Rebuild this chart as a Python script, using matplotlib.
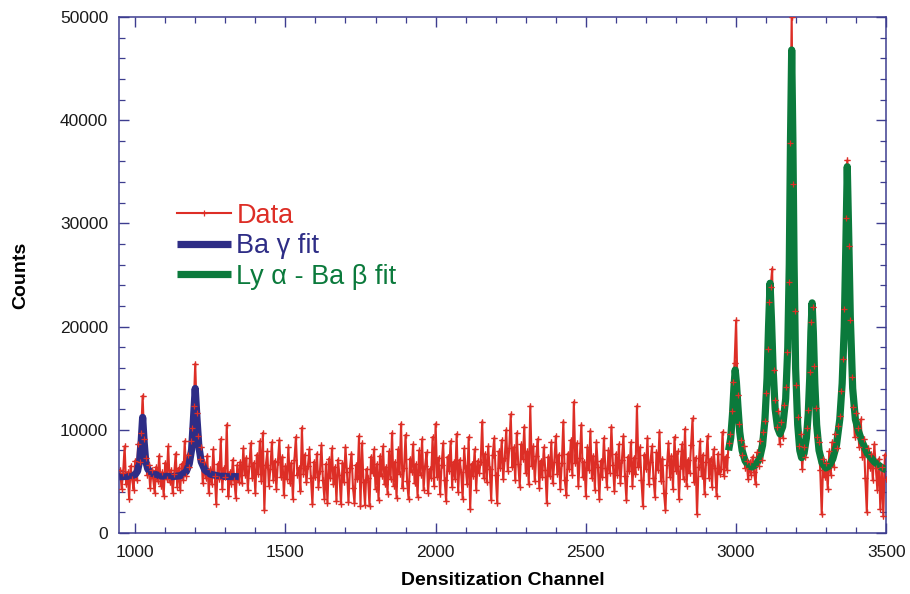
import numpy as np
import matplotlib
matplotlib.use("Agg")
import matplotlib.pyplot as plt
from matplotlib.ticker import MultipleLocator

plt.rcParams['font.family'] = ['Liberation Sans', 'DejaVu Sans']

# ---------------- data ----------------
channel_start = 950
channel_step = 5
counts = [
    6100, 4300, 5800, 8400, 4700, 5900, 3300, 6500, 5200, 4200, 7000, 5100, 8600, 6900, 9700, 13300, 9100, 7300, 5600, 6600,
    4400, 6100, 5300, 3900, 6400, 5000, 7500, 4600, 5900, 3600, 6800, 5200, 8400, 4900, 6100, 3900, 5700, 7700, 4500, 6300,
    4200, 6700, 5100, 8900, 5500, 7600, 6400, 8900, 10200, 12300, 16400, 11600, 9400, 7200, 8300, 4800, 6900, 5300, 7500, 3900,
    6200, 4700, 8100, 5500, 2800, 6700, 5200, 9100, 4300, 6300, 5400, 10500, 3600, 5900, 4700, 7100, 5100, 3400, 6600, 4900,
    6900, 4800, 8200, 5600, 7300, 4200, 6500, 8700, 5300, 6800, 3900, 7600, 5700, 8900, 5000, 9700, 2200, 6600, 7900, 4600,
    6200, 8800, 5100, 7000, 4300, 6900, 9000, 5400, 7400, 3700, 6500, 5200, 8300, 4800, 6800, 3300, 7100, 9300, 5600, 6300,
    4100, 10200, 5700, 7600, 4900, 6500, 8100, 5300, 2800, 6900, 5400, 7700, 4500, 6000, 8500, 5100, 3300, 6700, 2900, 7200,
    5300, 8200, 4700, 6400, 3100, 7100, 5600, 2800, 6800, 4900, 8300, 5900, 3000, 6300, 7700, 4400, 2900, 6600, 5200, 9400,
    2600, 8700, 4900, 2700, 6200, 5300, 2600, 7400, 5800, 8100, 4300, 6700, 3200, 7500, 5500, 8400, 4700, 6400, 3800, 7900,
    5200, 9700, 4600, 6900, 3400, 8100, 5700, 10600, 4400, 6300, 9500, 5000, 3300, 7200, 5900, 8600, 4800, 6700, 3500, 8000,
    5600, 9100, 4200, 6500, 7800, 3900, 6200, 5300, 9300, 4600, 10600, 5400, 7300, 3800, 6600, 8700, 5100, 3100, 7400, 6000,
    8900, 4500, 6900, 5200, 9600, 4000, 7100, 5900, 3300, 8200, 6300, 4700, 9300, 2300, 6700, 5500, 8100, 4200, 7000, 5800,
    6900, 10800, 5300, 7700, 4900, 8400, 6200, 3200, 7600, 9200, 5600, 2900, 7900, 6300, 9000, 5200, 7300, 10000, 6000, 8200,
    11500, 6400, 8300, 5100, 9700, 6700, 4500, 8600, 7200, 10300, 5800, 7900, 4700, 12300, 6500, 8400, 5000, 7500, 9100, 4400,
    7000, 5400, 8300, 6100, 2900, 7400, 5500, 8800, 4800, 6900, 9400, 5700, 7600, 4300, 6800, 10800, 5100, 3700, 7700, 6200,
    9000, 5600, 12700, 6800, 8700, 4600, 7300, 10500, 5400, 6900, 3600, 8300, 6100, 9900, 5300, 7500, 4200, 8800, 6400, 3300,
    7000, 5400, 9200, 6300, 4500, 8000, 5800, 10300, 6600, 4100, 7700, 5600, 8600, 4800, 7100, 9400, 5500, 3200, 7400, 6000,
    8800, 4600, 7300, 5700, 12300, 6400, 8300, 5100, 2600, 7600, 6200, 9200, 4700, 6900, 8400, 5300, 3500, 7800, 6100, 9800,
    5000, 7200, 3900, 2200, 6600, 8700, 5400, 7500, 4300, 9300, 6000, 7900, 3300, 6500, 8600, 5200, 10100, 4600, 7100, 5800,
    8500, 11100, 4900, 7300, 1800, 6400, 8900, 5500, 7600, 3800, 6900, 9400, 5300, 7200, 4500, 8100, 6300, 3600, 7700, 5700,
    6200, 9800, 5500, 7400, 6100, 8700, 9600, 11800, 14600, 16500, 20600, 13400, 10600, 9000, 7600, 8400, 6300, 7000, 5200, 6900,
    5600, 7400, 5900, 4700, 7800, 6500, 8900, 7100, 9800, 10900, 13600, 17800, 22400, 23800, 25600, 15800, 12900, 10300, 11800, 8600,
    10800, 9200, 12400, 14100, 17500, 24300, 37800, 50000, 33800, 21500, 14300, 11200, 8400, 9600, 6200, 8300, 7400, 10200, 11900, 15600,
    20400, 21900, 16200, 12100, 9300, 8800, 6100, 1800, 7200, 5400, 6800, 4300, 7900, 5600, 8800, 6400, 9600, 8200, 10400, 11300,
    13800, 16900, 21700, 30500, 36100, 27800, 20600, 15100, 12200, 9300, 11600, 10200, 8300, 11000, 7400, 9100, 5300, 2000, 8200, 6300,
    7700, 5100, 8600, 6300, 4200, 7200, 2300, 6400, 1600, 7600, 5200,
]
channels = channel_start + channel_step * np.arange(len(counts))

ba_gamma_x = [947, 980, 1000, 1008, 1015, 1020, 1025, 1030, 1035, 1042, 1055, 1080, 1120, 1150, 1170,
              1180, 1188, 1194, 1200, 1206, 1212, 1220, 1232, 1250, 1280, 1345]
ba_gamma_y = [5450, 5500, 5650, 6000, 7000, 8800, 11200, 8800, 7000, 6200, 5800, 5550, 5450, 5550, 5950,
              6700, 8100, 11000, 14000, 11000, 8400, 6900, 6100, 5700, 5500, 5450]

ly_alpha_x = [2975, 2982, 2988, 2993, 2997, 3001, 3006, 3012, 3020, 3030, 3042, 3054,
              3065, 3078, 3088, 3096, 3103, 3108, 3113, 3118, 3123, 3130, 3138, 3146,
              3155, 3165, 3172, 3177, 3181, 3185, 3189, 3193, 3198, 3205, 3212, 3218,
              3226, 3234, 3240, 3245, 3249, 3253, 3257, 3262, 3268, 3276, 3286, 3298,
              3310, 3322, 3334, 3345, 3353, 3360, 3365, 3370, 3375, 3380, 3388, 3397,
              3408, 3420, 3437, 3460, 3482, 3500]
ly_alpha_y = [8000, 9200, 11500, 14200, 15800, 14600, 12300, 9800, 8000, 7000, 6500, 6400,
              6600, 7200, 8500, 11000, 15000, 20000, 24200, 20500, 16000, 12000, 10200, 9600,
              10300, 13000, 18000, 26000, 38000, 46800, 38000, 26000, 16000, 10500, 8000, 7300,
              7700, 9200, 11500, 15000, 19500, 22300, 19500, 14500, 10500, 8000, 6800, 6300,
              6500, 7200, 8500, 11000, 14500, 20000, 27500, 35500, 28500, 21000, 14000, 11000,
              9800, 8800, 7700, 6900, 6400, 6100]

x_ticks = [1000, 1500, 2000, 2500, 3000, 3500]
y_ticks = [0, 10000, 20000, 30000, 40000, 50000]

# ---------------- style ----------------
RED = '#dd2e26'
NAVY = '#2e2d86'
GREEN = '#0b7a3c'
FRAME = '#3d3d8f'

fig = plt.figure(figsize=(9.10, 5.94), dpi=100)
ax = fig.add_axes([0.131, 0.1027, 0.843, 0.8687])

line_data, = ax.plot(channels, counts, color=RED, lw=1.5, zorder=2,
                     marker='+', ms=4, mew=0.9, label='Data')
ax.plot(channels, counts, ls='none', marker='+', ms=4, mew=0.9, color=RED, zorder=4)
line_ba, = ax.plot(ba_gamma_x, ba_gamma_y, color=NAVY, lw=5.2, zorder=3,
                   solid_capstyle='butt', label='Ba γ fit')
line_ly, = ax.plot(ly_alpha_x, ly_alpha_y, color=GREEN, lw=5.2, zorder=3,
                   solid_capstyle='butt', label='Ly α - Ba β fit')

ax.set_xlim(947, 3500)
ax.set_ylim(0, 50000)
ax.set_xticks(x_ticks)
ax.set_yticks(y_ticks)
ax.set_xticklabels([str(t) for t in x_ticks])
ax.set_yticklabels([str(t) for t in y_ticks])
ax.xaxis.set_minor_locator(MultipleLocator(100))
ax.yaxis.set_minor_locator(MultipleLocator(2000))
ax.tick_params(which='both', direction='in', top=True, right=True, color=FRAME,
               labelsize=12.5, labelcolor='#1a1a1a')
ax.tick_params(which='major', length=7, width=1.0)
ax.tick_params(which='minor', length=4, width=0.9)
ax.tick_params(axis='y', pad=8)
ax.tick_params(axis='x', pad=9)
for s in ax.spines.values():
    s.set_color(FRAME)
    s.set_linewidth(1.1)

ax.set_xlabel('Densitization Channel', fontsize=14, fontweight='bold', labelpad=8)
ax.set_ylabel('Counts', fontsize=14, fontweight='bold', labelpad=22)

leg = ax.legend(handles=[line_data, line_ba, line_ly], loc='upper left',
                bbox_to_anchor=(0.0752, 0.640), frameon=False, fontsize=19.5,
                handlelength=2.0, handletextpad=0.2, labelspacing=0.17,
                borderaxespad=0, borderpad=0, numpoints=1)
for txt, col in zip(leg.get_texts(), [RED, NAVY, GREEN]):
    txt.set_color(col)

fig.savefig('out.png', dpi=100)
